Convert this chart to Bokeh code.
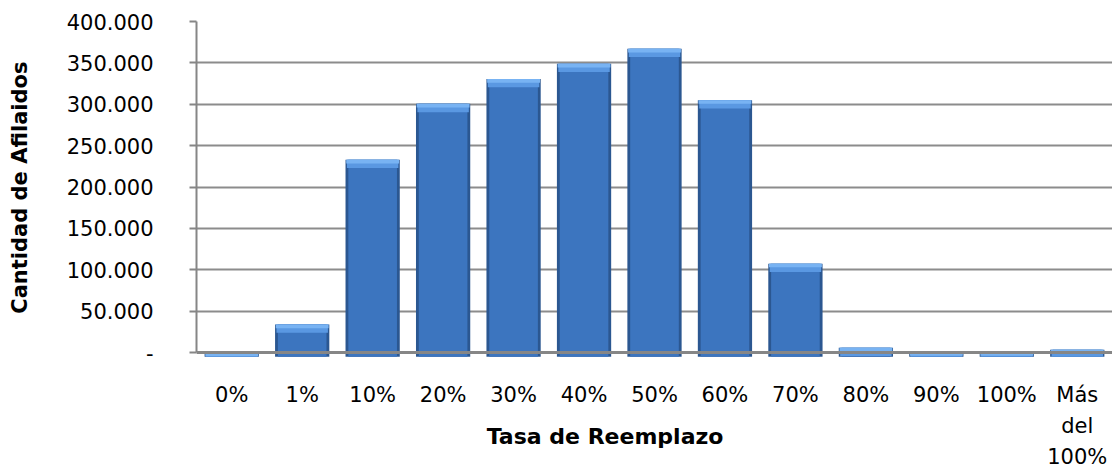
import numpy as np
from bokeh.plotting import figure
from bokeh.models import (Range1d, FixedTicker, CustomJSTickFormatter, Span,
                          ColumnDataSource, Title)
from bokeh.core.properties import value
from bokeh.embed import file_html
from bokeh.resources import INLINE

categories = ["0%", "1%", "10%", "20%", "30%", "40%", "50%", "60%", "70%",
              "80%", "90%", "100%", "Más\ndel\n100%"]
afiliados = [0, 34000, 233000, 300500, 330500, 349000, 367000, 305000, 107500,
             6000, 800, 800, 3500]
y_ticks = [0, 50000, 100000, 150000, 200000, 250000, 300000, 350000, 400000]
x_title = "Tasa de Reemplazo"
y_title = "Cantidad de Afilaidos"

vals = np.array(afiliados, dtype=float)
base = -5000.0
band1_bottom = np.maximum(vals - 10000.0, base)
band2_bottom = np.maximum(vals - 4500.0, base)

src = ColumnDataSource(dict(x=categories, top=vals,
                            bottom=np.full(len(vals), base),
                            b1=band1_bottom, b2=band2_bottom,
                            zero=np.zeros(len(vals))))

FONT = "DejaVu Sans"

p = figure(x_range=categories, y_range=Range1d(-140000, 400000),
           width=1112, height=468, output_backend="svg", toolbar_location=None,
           min_border_left=196, min_border_right=0, min_border_top=21,
           min_border_bottom=0)

# bars (pseudo 3D bevel)
p.vbar(x="x", top="top", bottom="bottom", width=0.77, source=src,
       fill_color="#2b5791", line_color=None)
p.vbar(x="x", top="top", bottom="bottom", width=0.69, source=src,
       fill_color="#3c75bf", line_color=None)
p.vbar(x="x", top="top", bottom="b1", width=0.73, source=src,
       fill_color="#5a98e2", line_color=None)
p.vbar(x="x", top="top", bottom="b2", width=0.75, source=src,
       fill_color="#78b3f3", line_color=None)

p.add_layout(Span(location=0, dimension="width", line_color="#868686",
                  line_width=3))

p.outline_line_color = None
p.xgrid.grid_line_color = None
p.ygrid.grid_line_color = "#8c8c8c"
p.ygrid.grid_line_width = 2
p.ygrid.ticker = FixedTicker(ticks=y_ticks)

ya = p.yaxis[0]
ya.ticker = FixedTicker(ticks=y_ticks)
ya.bounds = (0, 400000)
ya.formatter = CustomJSTickFormatter(code="""
if (tick == 0) { return "-"; }
return tick.toFixed(0).replace(/\\B(?=(\\d{3})+(?!\\d))/g, ".");
""")
ya.axis_line_color = "#868686"
ya.axis_line_width = 2
ya.major_tick_line_color = "#868686"
ya.major_tick_line_width = 2
ya.major_tick_out = 7
ya.major_tick_in = 0
ya.minor_tick_line_color = None
ya.major_label_text_font = FONT
ya.major_label_text_font_size = "21px"
ya.major_label_text_color = "#000000"
ya.major_label_standoff = 36
ya.axis_label = " "
ya.axis_label_text_font_size = "1px"
ya.axis_label_standoff = 23

# y-axis title placed near the top like the reference
p.add_layout(Title(text=y_title, align="right", offset=40,
                   text_font=FONT, text_font_style="bold",
                   text_font_size="21px", text_color="#000000"), "left")

p.xaxis.visible = False

# category labels drawn under the zero line
p.text(x="x", y="zero", text="x", source=src, y_offset=30,
       text_font=value(FONT), text_font_size="21px", text_color="#000000",
       text_align="center", text_baseline="top", text_line_height=1.3)

# x-axis title
tsrc = ColumnDataSource(dict(x=[categories[5]], y=[0.0], t=[x_title]))
p.text(x="x", y="y", text="t", source=tsrc, x_offset=21, y_offset=84,
       text_font=value(FONT), text_font_style="bold", text_font_size="22px",
       text_color="#000000", text_align="center", text_baseline="middle")

open("out.html", "w").write(file_html(p, INLINE))
